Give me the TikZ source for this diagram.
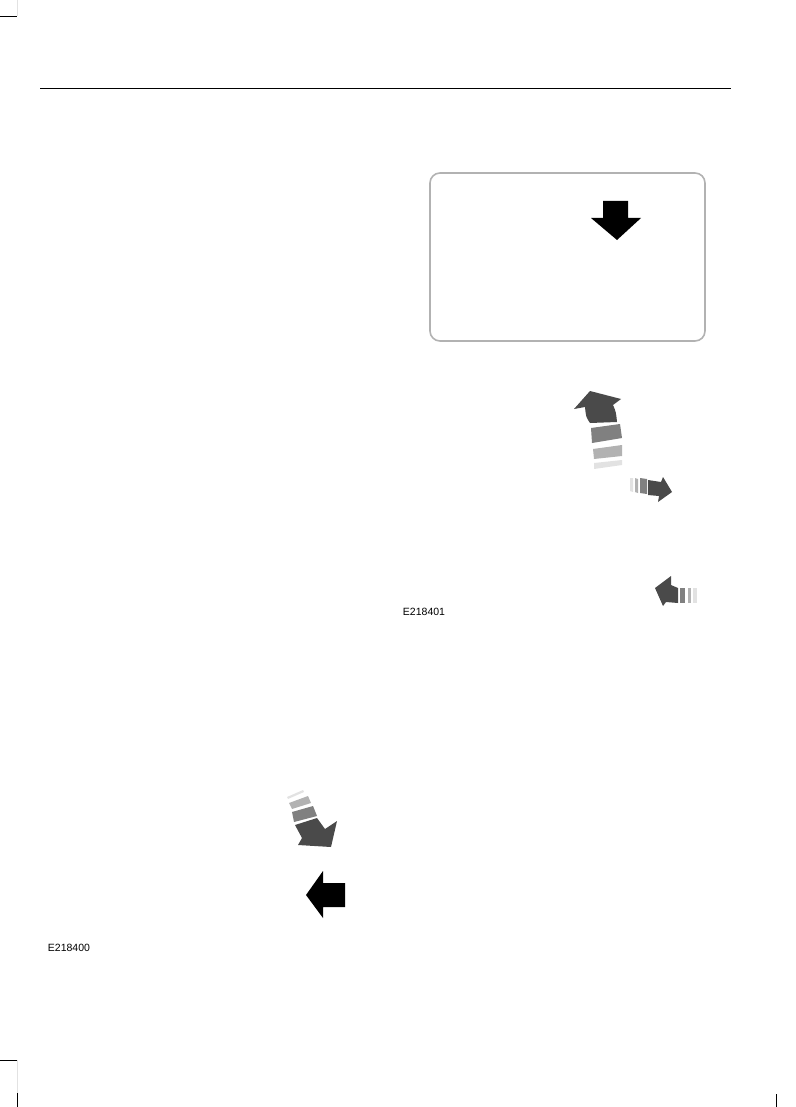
\documentclass[tikz,border=0pt]{standalone}
\usepackage{fontspec}
\setmainfont{Liberation Sans}
\usepackage{tikz}
\definecolor{darkgray}{RGB}{74,74,74}
\definecolor{midgray}{RGB}{128,128,128}
\definecolor{lightgray}{RGB}{178,178,178}
\definecolor{palegray}{RGB}{226,226,226}
\definecolor{boxgray}{RGB}{178,178,178}
\tikzset{
  figlabel/.style={font=\fontsize{10.5}{12}\selectfont, inner sep=0pt},
}

\begin{document}
\begin{tikzpicture}[x=1pt,y=-1pt]
\tikzstyle{every node}+=[inner sep=0pt]
\useasboundingbox (0,0) rectangle (795,1107);
% page marks and header rule
\draw [black, line width=1pt] (0,17) -- (17,17);
\draw [palegray, line width=1pt] (17,0) -- (17,16);
\draw [black, line width=1pt] (40,89) -- (731,89);
\draw [black, line width=1pt] (0,1060) -- (17,1060);
\draw [palegray, line width=1pt] (17,1060) -- (17,1093);
\draw [black, line width=1pt] (17,1093) -- (17,1107);
\draw [black, line width=1pt] (776,1094) -- (776,1107);
% screen with down arrow
\draw [boxgray, line width=1.6pt, rounded corners=10pt] (430,173) rectangle (705,341);
\fill [black] (603,201) -- (628,201) -- (628,218) -- (641,218) -- (617,240) -- (591,218) -- (603,218) -- cycle;
% curved arrow up
\fill [darkgray] (590,423) .. controls (586,417) .. (585,407) -- (574,409) -- (590,391) -- (621,399) -- (613,405) .. controls (616,412) .. (617,422) -- cycle;
\fill [midgray] (591,428) -- (620,424) -- (622,438) -- (592,443) -- cycle;
\fill [lightgray] (593,449) -- (622,445) -- (622,456) -- (594,459) -- cycle;
\fill [palegray] (594,463) -- (622,460) -- (622,465) -- (594,469) -- cycle;
% small arrow right
\fill [palegray] (630,478) -- (633,478) -- (633,492) -- (630,491) -- cycle;
\fill [lightgray] (635,478) -- (638,479) -- (638,493) -- (635,492) -- cycle;
\fill [midgray] (640,478) -- (647,479) -- (647,494) -- (640,493) -- cycle;
\fill [darkgray] (648,480) -- (661,482) -- (663,477) -- (672,492) -- (658,502) -- (659,496) -- (648,495) -- cycle;
% small arrow left
\fill [darkgray] (678,588) -- (671,585) -- (671,576) -- (655,588) -- (663,606) -- (666,602) -- (678,603) -- cycle;
\fill [midgray] (680,588) -- (685,588) -- (685,603) -- (680,603) -- cycle;
\fill [lightgray] (688,588) -- (691,588) -- (691,603) -- (688,603) -- cycle;
\fill [palegray] (693,588) -- (697,588) -- (697,603) -- (693,603) -- cycle;
\node [figlabel] (label401) at (424,612) {E218401};
% diagonal arrow down
\fill [palegray] (287,797) -- (303,790) -- (304,792) -- (288,799) -- cycle;
\fill [lightgray] (289,803) -- (308,796) -- (311,803) -- (292,809) -- cycle;
\fill [midgray] (292,812) -- (313,806) -- (317,816) -- (294,822) -- cycle;
\fill [darkgray] (295,825) -- (317,818) -- (325,829) -- (337,821) -- (331,847) -- (298,845) -- (302,838) -- cycle;
% black arrow left
\fill [black] (345,883) -- (323,883) -- (323,871) -- (306,895) -- (323,918) -- (323,907) -- (345,907) -- cycle;
\node [figlabel] (label400) at (69,948) {E218400};
\end{tikzpicture}
\end{document}
